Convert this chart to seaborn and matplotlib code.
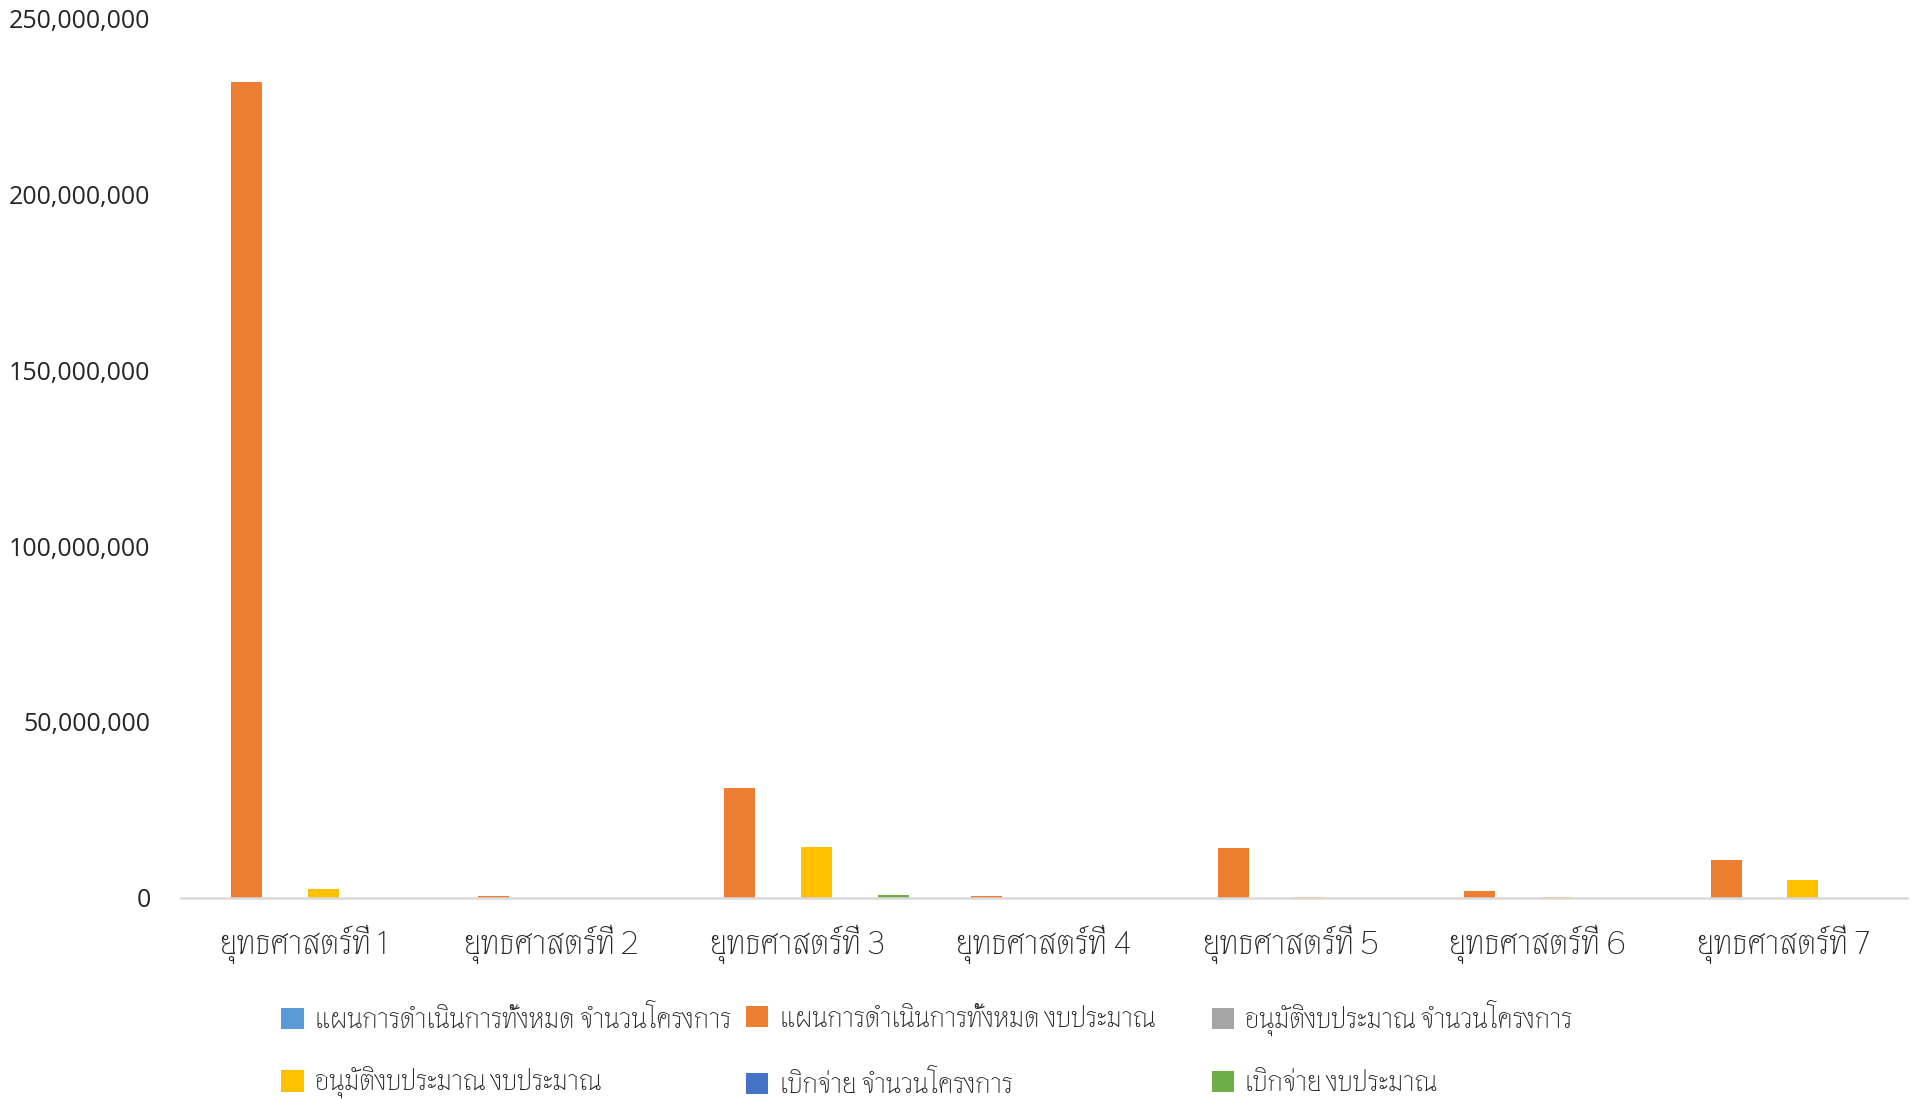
import matplotlib
matplotlib.use("Agg")
import matplotlib.pyplot as plt
import matplotlib.ticker as mticker
import seaborn as sns
import pandas as pd

# categories (strategies)
strategies = ["ยุทธศาสตร์ที่ 1", "ยุทธศาสตร์ที่ 2", "ยุทธศาสตร์ที่ 3", "ยุทธศาสตร์ที่ 4",
              "ยุทธศาสตร์ที่ 5", "ยุทธศาสตร์ที่ 6", "ยุทธศาสตร์ที่ 7"]

series_names = ["แผนการดำเนินการทั้งหมด จำนวนโครงการ",
                "แผนการดำเนินการทั้งหมด งบประมาณ",
                "อนุมัติงบประมาณ จำนวนโครงการ",
                "อนุมัติงบประมาณ งบประมาณ",
                "เบิกจ่าย จำนวนโครงการ",
                "เบิกจ่าย งบประมาณ"]

# values (counts are too small to be seen)
plan_count = [15, 6, 20, 5, 10, 8, 12]
plan_budget = [231_800_000, 500_000, 31_300_000, 700_000, 14_200_000, 1_900_000, 10_800_000]
approved_count = [5, 1, 8, 1, 3, 2, 4]
approved_budget = [2_600_000, 0, 14_400_000, 0, 200_000, 150_000, 5_100_000]
paid_count = [1, 0, 2, 0, 0, 0, 0]
paid_budget = [0, 0, 900_000, 0, 0, 0, 0]

colors = ["#5B9BD5", "#ED7D31", "#A5A5A5", "#FFC000", "#4472C4", "#70AD47"]

all_series = [plan_count, plan_budget, approved_count, approved_budget, paid_count, paid_budget]
rows = []
for name, vals in zip(series_names, all_series):
    for cat, v in zip(strategies, vals):
        rows.append({"strategy": cat, "series": name, "value": v})
df = pd.DataFrame(rows)

sns.set_theme(style="white")
thai = ["Thasadith", "Noto Sans Thai", "DejaVu Sans"]
plt.rcParams["font.family"] = thai
text_color = "#262626"

fig = plt.figure(figsize=(19.14, 10.99), dpi=100)
ax = fig.add_axes([0.0946, 0.1829, 0.9017, 0.8007])

sns.barplot(data=df, x="strategy", y="value", hue="series", order=strategies,
            hue_order=series_names, palette=colors, width=0.933, gap=0.19,
            saturation=1, legend=True, ax=ax, linewidth=0)

ax.set_ylim(0, 250_000_000)
ax.set_xlim(-0.5, len(strategies) - 0.5)
ax.yaxis.set_major_locator(mticker.MultipleLocator(50_000_000))
ax.yaxis.set_major_formatter(mticker.FuncFormatter(lambda v, p: f"{int(v):,}"))
ax.set_xlabel("")
ax.set_ylabel("")

for s in ["top", "right", "left"]:
    ax.spines[s].set_visible(False)
ax.spines["bottom"].set_color("#D9D9D9")
ax.spines["bottom"].set_linewidth(1.8)
ax.tick_params(axis="both", length=0)
ax.tick_params(axis="y", pad=22)
ax.tick_params(axis="x", pad=19)

for lab in ax.get_yticklabels():
    lab.set_fontfamily(["Open Sans", "DejaVu Sans"])
    lab.set_fontsize(18)
    lab.set_color(text_color)
for lab in ax.get_xticklabels():
    lab.set_fontsize(24)
    lab.set_color(text_color)

handles, labels = ax.get_legend_handles_labels()
ax.get_legend().remove()

# legend: 3 columns x 2 rows, each entry placed on its own like the spreadsheet
col_x = [0.1470, 0.3899, 0.6330]
row_y = [0.0737, 0.0146]
for i, (h, lab) in enumerate(zip(handles, labels)):
    r, c = divmod(i, 3)
    fig.legend([h], [lab], loc="center left", bbox_to_anchor=(col_x[c], row_y[r]),
               frameon=False, fontsize=20, handlelength=0.8, handleheight=0.8,
               handletextpad=0.4, labelcolor=text_color, borderpad=0, borderaxespad=0)

fig.savefig("out.png", dpi=100)
